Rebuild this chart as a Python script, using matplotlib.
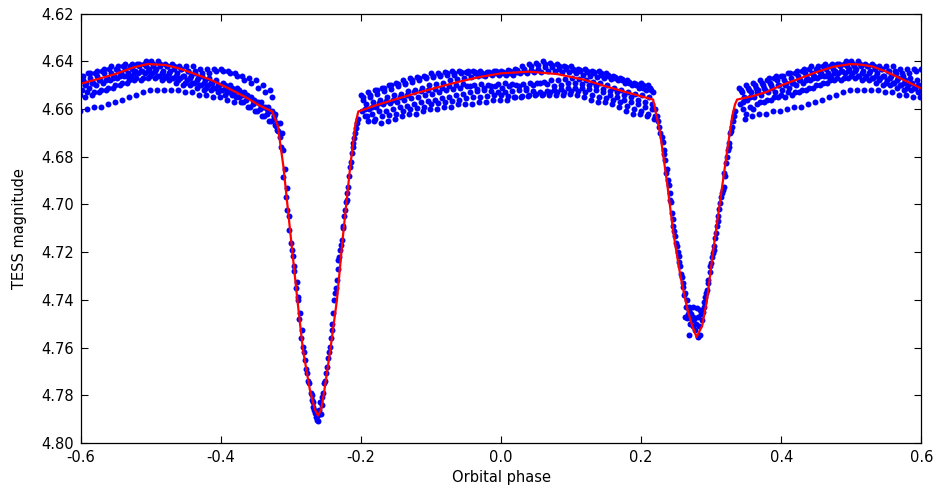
import numpy as np
import matplotlib
matplotlib.use("Agg")
import matplotlib.pyplot as plt

plt.rcParams["axes.unicode_minus"] = False
plt.rcParams["font.family"] = ["DejaVu Sans"]

# ---- observed TESS points, phase folded ----
# out-of-eclipse arc after secondary eclipse (wraps past phase 0.5)
arc_a_phase = np.round(np.arange(0.34, 0.675, 0.01), 2)
arc_a_tracks = [
    [4.651, 4.650, 4.649, 4.648, 4.648, 4.647, 4.646, 4.645, 4.645, 4.644, 4.643, 4.643,
     4.642, 4.642, 4.641, 4.641, 4.640, 4.640, 4.641, 4.641, 4.642, 4.642, 4.642, 4.643,
     4.643, 4.643, 4.643, 4.644, 4.645, 4.646, 4.647, 4.648, 4.650, 4.652],
    [4.653, 4.652, 4.651, 4.650, 4.649, 4.648, 4.648, 4.647, 4.646, 4.645, 4.645, 4.644,
     4.643, 4.643, 4.642, 4.642, 4.642, 4.642, 4.642, 4.643, 4.643, 4.644, 4.645, 4.646,
     4.647, 4.648, 4.649, 4.650, 4.651, 4.653, 4.655, 4.657, 4.659, 4.661],
    [4.655, 4.653, 4.652, 4.652, 4.651, 4.650, 4.649, 4.649, 4.648, 4.647, 4.646, 4.645,
     4.645, 4.644, 4.644, 4.643, 4.643, 4.644, 4.644, 4.645, 4.646, 4.646, 4.647, 4.648,
     4.649, 4.650, 4.651, 4.652, 4.653, 4.654, 4.656, 4.657, 4.659, 4.662],
    [4.658, 4.656, 4.655, 4.654, 4.653, 4.653, 4.652, 4.651, 4.650, 4.649, 4.648, 4.647,
     4.646, 4.646, 4.645, 4.645, 4.645, 4.646, 4.646, 4.647, 4.647, 4.648, 4.649, 4.650,
     4.650, 4.651, 4.652, 4.653, 4.655, 4.657, 4.659, 4.661, 4.663, 4.665],
    [4.660, 4.659, 4.658, 4.657, 4.656, 4.655, 4.655, 4.654, 4.653, 4.652, 4.651, 4.650,
     4.649, 4.648, 4.648, 4.647, 4.647, 4.648, 4.648, 4.649, 4.650, 4.650, 4.651, 4.652,
     4.652, 4.653, 4.654, 4.654, 4.655, 4.656, 4.658, 4.660, 4.662, 4.664],
    [4.664, 4.663, 4.662, 4.662, 4.661, 4.661, 4.660, 4.659, 4.659, 4.658, 4.657, 4.656,
     4.655, 4.654, 4.653, 4.652, 4.652, 4.652, 4.652, 4.652, 4.653, 4.653, 4.654, 4.654,
     4.655, 4.655, 4.656, 4.657, 4.657, 4.659, 4.661, 4.663, 4.665, 4.667],
    [4.652, 4.651, 4.650, 4.649, 4.647, 4.646, 4.646, 4.645, 4.644, 4.643, 4.642, 4.642,
     4.641, 4.641, 4.641, 4.640, 4.641, 4.641, 4.642, 4.642, 4.643, 4.644, 4.644, 4.645,
     4.645, 4.644, 4.644, 4.645, 4.646, 4.648, 4.649, 4.651, 4.653, 4.655],
    [4.657, 4.655, 4.653, 4.651, 4.650, 4.650, 4.650, 4.649, 4.648, 4.648, 4.647, 4.646,
     4.646, 4.645, 4.644, 4.644, 4.644, 4.645, 4.645, 4.646, 4.646, 4.647, 4.648, 4.649,
     4.649, 4.650, 4.650, 4.651, 4.652, 4.654, 4.656, 4.658, 4.660, 4.663],
    [4.662, 4.660, 4.657, 4.656, 4.655, 4.654, 4.653, 4.653, 4.652, 4.651, 4.650, 4.649,
     4.648, 4.647, 4.647, 4.646, 4.646, 4.647, 4.647, 4.648, 4.649, 4.649, 4.650, 4.651,
     4.651, 4.652, 4.653, 4.653, 4.654, 4.655, 4.657, 4.659, 4.661, 4.666],
]

# out-of-eclipse arc between primary and secondary eclipse
arc_b_phase = np.round(np.arange(-0.20, 0.215, 0.01), 2)
arc_b_tracks = [
    [4.654, 4.653, 4.652, 4.651, 4.650, 4.649, 4.648, 4.647, 4.6465, 4.646,
     4.645, 4.645, 4.6445, 4.644, 4.644, 4.6445, 4.644, 4.644, 4.6445, 4.644,
     4.644, 4.6435, 4.643, 4.642, 4.641, 4.6405, 4.640, 4.6405, 4.641, 4.642,
     4.642, 4.643, 4.643, 4.644, 4.644, 4.645, 4.646, 4.647, 4.648, 4.649, 4.649, 4.650],
    [4.656, 4.655, 4.6535, 4.6525, 4.6515, 4.6505, 4.6495, 4.6485, 4.648, 4.647,
     4.6465, 4.646, 4.6455, 4.6455, 4.645, 4.645, 4.645, 4.6455, 4.645, 4.645,
     4.645, 4.645, 4.6445, 4.644, 4.6435, 4.643, 4.6425, 4.6425, 4.643, 4.643,
     4.6435, 4.644, 4.6445, 4.645, 4.6455, 4.646, 4.647, 4.648, 4.649, 4.650, 4.651, 4.652],
    [4.658, 4.657, 4.656, 4.655, 4.654, 4.6535, 4.6525, 4.652, 4.651, 4.650,
     4.6495, 4.649, 4.648, 4.6475, 4.647, 4.6465, 4.646, 4.646, 4.6455, 4.6455,
     4.6455, 4.6455, 4.645, 4.645, 4.6445, 4.6445, 4.644, 4.644, 4.6445, 4.6445,
     4.645, 4.6455, 4.646, 4.6465, 4.647, 4.6475, 4.648, 4.649, 4.650, 4.651, 4.652, 4.653],
    [4.661, 4.660, 4.659, 4.658, 4.6575, 4.657, 4.656, 4.6555, 4.655, 4.654,
     4.6535, 4.653, 4.652, 4.6515, 4.651, 4.6505, 4.650, 4.6495, 4.650, 4.6505,
     4.651, 4.6505, 4.650, 4.6495, 4.649, 4.649, 4.6485, 4.648, 4.648, 4.6475,
     4.647, 4.6475, 4.648, 4.6485, 4.649, 4.650, 4.651, 4.652, 4.653, 4.6535, 4.654, 4.655],
    [4.663, 4.662, 4.661, 4.661, 4.660, 4.659, 4.6585, 4.658, 4.657, 4.6565,
     4.656, 4.6555, 4.655, 4.654, 4.6535, 4.653, 4.6525, 4.652, 4.6525, 4.653,
     4.653, 4.6525, 4.652, 4.652, 4.6525, 4.653, 4.6525, 4.652, 4.6515, 4.651,
     4.651, 4.651, 4.6515, 4.652, 4.653, 4.654, 4.655, 4.656, 4.657, 4.658, 4.659, 4.660],
    [4.663, 4.665, 4.666, 4.665, 4.664, 4.663, 4.662, 4.662, 4.661, 4.660,
     4.660, 4.659, 4.659, 4.658, 4.658, 4.658, 4.657, 4.657, 4.656, 4.656,
     4.656, 4.655, 4.655, 4.6545, 4.654, 4.654, 4.654, 4.654, 4.654, 4.6535,
     4.654, 4.655, 4.656, 4.657, 4.657, 4.658, 4.659, 4.661, 4.662, 4.662, 4.663, 4.664],
    [4.655, 4.654, 4.652, 4.651, 4.650, 4.6495, 4.649, 4.648, 4.647, 4.6465,
     4.646, 4.6455, 4.645, 4.645, 4.6445, 4.644, 4.6445, 4.645, 4.6445, 4.644,
     4.6445, 4.644, 4.6435, 4.643, 4.642, 4.6415, 4.641, 4.6415, 4.642, 4.6425,
     4.643, 4.6435, 4.644, 4.6445, 4.645, 4.6455, 4.6465, 4.6475, 4.6485, 4.6495, 4.650, 4.651],
    [4.660, 4.659, 4.6575, 4.6565, 4.656, 4.655, 4.654, 4.653, 4.6525, 4.652,
     4.6515, 4.651, 4.6505, 4.650, 4.6495, 4.6505, 4.6515, 4.651, 4.6505, 4.6495,
     4.649, 4.6495, 4.6505, 4.651, 4.650, 4.649, 4.6495, 4.6505, 4.650, 4.649,
     4.649, 4.6495, 4.650, 4.6505, 4.6515, 4.6525, 4.653, 4.654, 4.655, 4.656, 4.657, 4.658],
    [4.665, 4.664, 4.663, 4.6625, 4.662, 4.661, 4.660, 4.6595, 4.659, 4.658,
     4.6575, 4.657, 4.6565, 4.656, 4.6555, 4.655, 4.655, 4.6545, 4.654, 4.654,
     4.6545, 4.655, 4.6545, 4.654, 4.6535, 4.6535, 4.653, 4.653, 4.653, 4.6525,
     4.6525, 4.653, 4.654, 4.655, 4.6555, 4.656, 4.657, 4.6585, 4.660, 4.661, 4.662, 4.663],
]
track_shift = [0.0, 0.0033, 0.0067, 0.0017, 0.005, 0.0083, 0.0025, 0.0058, 0.0092]

# primary eclipse points
prim_phase = [-0.3229, -0.3205, -0.3157, -0.3157, -0.3133, -0.3110, -0.3110, -0.3071,
              -0.3052, -0.3024, -0.3004, -0.2976, -0.2953, -0.2919, -0.2896, -0.2871,
              -0.2847, -0.2833, -0.2800, -0.2776, -0.2738, -0.2704, -0.2704, -0.2681,
              -0.2681, -0.2657, -0.2633, -0.2633, -0.2610, -0.2610, -0.2586, -0.2561,
              -0.2561, -0.2529, -0.2500, -0.2467, -0.2443, -0.2419, -0.2396, -0.2371,
              -0.2347, -0.2324, -0.2300, -0.2276, -0.2253, -0.2229, -0.2204, -0.2181,
              -0.2157, -0.2133, -0.2110, -0.2086, -0.2061,
              -0.3250, -0.3180, -0.3140, -0.3090, -0.3065, -0.3035, -0.2990, -0.2960,
              -0.2935, -0.2905, -0.2880, -0.2860, -0.2815, -0.2790, -0.2755, -0.2720,
              -0.2670, -0.2645, -0.2620, -0.2595, -0.2575, -0.2545, -0.2515, -0.2485,
              -0.2455, -0.2430, -0.2410, -0.2380, -0.2360, -0.2335, -0.2310, -0.2290,
              -0.2265, -0.2240, -0.2215, -0.2195, -0.2170, -0.2145, -0.2120, -0.2095,
              -0.2075, -0.2050]
prim_mag = [4.6666, 4.6687, 4.6715, 4.6659, 4.6701, 4.6771, 4.6883, 4.6967,
            4.7022, 4.7106, 4.7162, 4.7218, 4.7260, 4.7323, 4.7386, 4.7456,
            4.7526, 4.7596, 4.7652, 4.7708, 4.7750, 4.7799, 4.7820, 4.7827,
            4.7848, 4.7875, 4.7903, 4.7875, 4.7882, 4.7910, 4.7827, 4.7806,
            4.7841, 4.7750, 4.7708, 4.7645, 4.7596, 4.7526, 4.7456, 4.7372,
            4.7316, 4.7232, 4.7190, 4.7148, 4.7092, 4.7022, 4.6980, 4.6925,
            4.6841, 4.6785, 4.6743, 4.6701, 4.6659,
            4.6630, 4.6690, 4.6760, 4.6850, 4.6930, 4.7050, 4.7190, 4.7280,
            4.7350, 4.7400, 4.7480, 4.7560, 4.7620, 4.7690, 4.7740, 4.7790,
            4.7860, 4.7890, 4.7870, 4.7860, 4.7880, 4.7790, 4.7740, 4.7680,
            4.7620, 4.7560, 4.7500, 4.7400, 4.7350, 4.7270, 4.7220, 4.7170,
            4.7100, 4.7050, 4.6990, 4.6950, 4.6880, 4.6820, 4.6760, 4.6720,
            4.6680, 4.6640]

# secondary eclipse points
sec_phase = [0.2224, 0.2248, 0.2296, 0.2319, 0.2343, 0.2357, 0.2390, 0.2414, 0.2414,
             0.2439, 0.2461, 0.2486, 0.2510, 0.2533, 0.2557, 0.2581, 0.2604, 0.2629,
             0.2629, 0.2653, 0.2653, 0.2676, 0.2676, 0.2676, 0.2700, 0.2724, 0.2747,
             0.2747, 0.2771, 0.2795, 0.2805, 0.2814, 0.2833, 0.2843, 0.2867, 0.2890,
             0.2914, 0.2939, 0.2961, 0.2976, 0.2996, 0.3024, 0.3043, 0.3071, 0.3081,
             0.3104, 0.3129, 0.3153, 0.3176, 0.3186, 0.3214, 0.3233, 0.3261, 0.3271,
             0.3296, 0.3319,
             0.2200, 0.2235, 0.2270, 0.2305, 0.2330, 0.2370, 0.2400, 0.2425, 0.2450,
             0.2475, 0.2500, 0.2520, 0.2545, 0.2570, 0.2595, 0.2615, 0.2640, 0.2665,
             0.2690, 0.2715, 0.2735, 0.2760, 0.2785, 0.2820, 0.2850, 0.2880, 0.2900,
             0.2925, 0.2950, 0.2985, 0.3010, 0.3035, 0.3060, 0.3095, 0.3115, 0.3140,
             0.3165, 0.3195, 0.3225, 0.3250, 0.3285, 0.3310, 0.3335]
sec_mag = [4.6631, 4.6673, 4.6715, 4.6771, 4.6813, 4.6869, 4.6897, 4.6953, 4.6981,
           4.7036, 4.7092, 4.7134, 4.7176, 4.7218, 4.7260, 4.7302, 4.7344, 4.7372,
           4.7470, 4.7400, 4.7477, 4.7428, 4.7442, 4.7547, 4.7456, 4.7484, 4.7470,
           4.7428, 4.7526, 4.7435, 4.7554, 4.7470, 4.7442, 4.7547, 4.7484, 4.7428,
           4.7386, 4.7358, 4.7316, 4.7281, 4.7246, 4.7204, 4.7176, 4.7120, 4.7092,
           4.7050, 4.6994, 4.6953, 4.6925, 4.6869, 4.6827, 4.6771, 4.6743, 4.6701,
           4.6673, 4.6631,
           4.6600, 4.6650, 4.6700, 4.6740, 4.6790, 4.6850, 4.6920, 4.6990, 4.7060,
           4.7110, 4.7160, 4.7200, 4.7240, 4.7290, 4.7330, 4.7380, 4.7430, 4.7460,
           4.7500, 4.7460, 4.7510, 4.7480, 4.7500, 4.7510, 4.7460, 4.7450, 4.7410,
           4.7370, 4.7330, 4.7260, 4.7220, 4.7190, 4.7140, 4.7070, 4.7020, 4.6970,
           4.6940, 4.6880, 4.6800, 4.6760, 4.6690, 4.6650, 4.6610]

# ---- binary model light curve ----
model_phase = [-0.6, -0.575, -0.55, -0.525, -0.505, -0.48, -0.46, -0.44, -0.414, -0.39,
               -0.366, -0.345, -0.327,
               -0.319, -0.311, -0.301, -0.291, -0.283, -0.273, -0.266, -0.2615, -0.257,
               -0.2525, -0.244, -0.2345, -0.2255, -0.2155, -0.208, -0.204,
               -0.18, -0.15, -0.12, -0.09, -0.06, -0.03, 0.0, 0.04, 0.08, 0.12, 0.15,
               0.18, 0.217,
               0.227, 0.237, 0.246, 0.256, 0.266, 0.273, 0.279, 0.287, 0.294, 0.303,
               0.313, 0.323, 0.330, 0.334, 0.337,
               0.36, 0.38, 0.40, 0.427, 0.45, 0.475, 0.499, 0.515, 0.531, 0.55, 0.57, 0.6]
model_mag = [4.6493, 4.6473, 4.6452, 4.6425, 4.6411, 4.6415, 4.6429, 4.6450, 4.6478, 4.6512,
             4.6548, 4.6585, 4.6610,
             4.667, 4.684, 4.712, 4.740, 4.761, 4.778, 4.786, 4.7885, 4.786,
             4.778, 4.761, 4.740, 4.712, 4.684, 4.666, 4.661,
             4.6585, 4.6558, 4.6532, 4.6508, 4.6485, 4.6465, 4.6450, 4.6443, 4.6453, 4.6478,
             4.6505, 4.6530, 4.6560,
             4.670, 4.691, 4.712, 4.730, 4.744, 4.751, 4.7556, 4.751, 4.740, 4.719,
             4.698, 4.677, 4.663, 4.658, 4.656,
             4.6545, 4.6527, 4.6500, 4.6471, 4.6445, 4.6422, 4.6411, 4.6414, 4.6422, 4.6443,
             4.6471, 4.6513]

fig = plt.figure(figsize=(9.42, 4.90), dpi=100)
ax = fig.add_axes([0.086, 0.096, 0.892, 0.876])

dot = dict(ls="none", marker="o", ms=4.3, color="#0000ff", mec="#0000ff", mew=0)

# folded data: repeat the wrapping arc one cycle back so the plot runs -0.6..0.6
for mags, dx in zip(arc_a_tracks, track_shift):
    ph = arc_a_phase + dx
    for k in (-1, 0):
        ax.plot(ph + k, mags, **dot)
for mags, dx in zip(arc_b_tracks, track_shift):
    ax.plot(arc_b_phase + dx, mags, **dot)
ax.plot(prim_phase, prim_mag, **dot)
ax.plot(sec_phase, sec_mag, **dot)

ax.plot(model_phase, model_mag, color="red", lw=1.6)

ax.set_xlim(-0.6, 0.6)
ax.set_ylim(4.80, 4.62)
ax.set_xticks(np.arange(-0.6, 0.61, 0.2))
ax.set_xticklabels(["-0.6", "-0.4", "-0.2", "0.0", "0.2", "0.4", "0.6"])
yt = np.arange(4.62, 4.801, 0.02)
ax.set_yticks(yt)
ax.set_yticklabels(["%.2f" % v for v in yt])
ax.tick_params(direction="in", top=True, right=True, length=5, width=0.8,
               labelsize=10.5, pad=5)
for s in ax.spines.values():
    s.set_linewidth(0.9)

ax.set_xlabel("Orbital phase", fontsize=10.5, labelpad=4)
ax.set_ylabel("TESS magnitude", fontsize=10.5, labelpad=10)

fig.savefig("out.png", dpi=100)
